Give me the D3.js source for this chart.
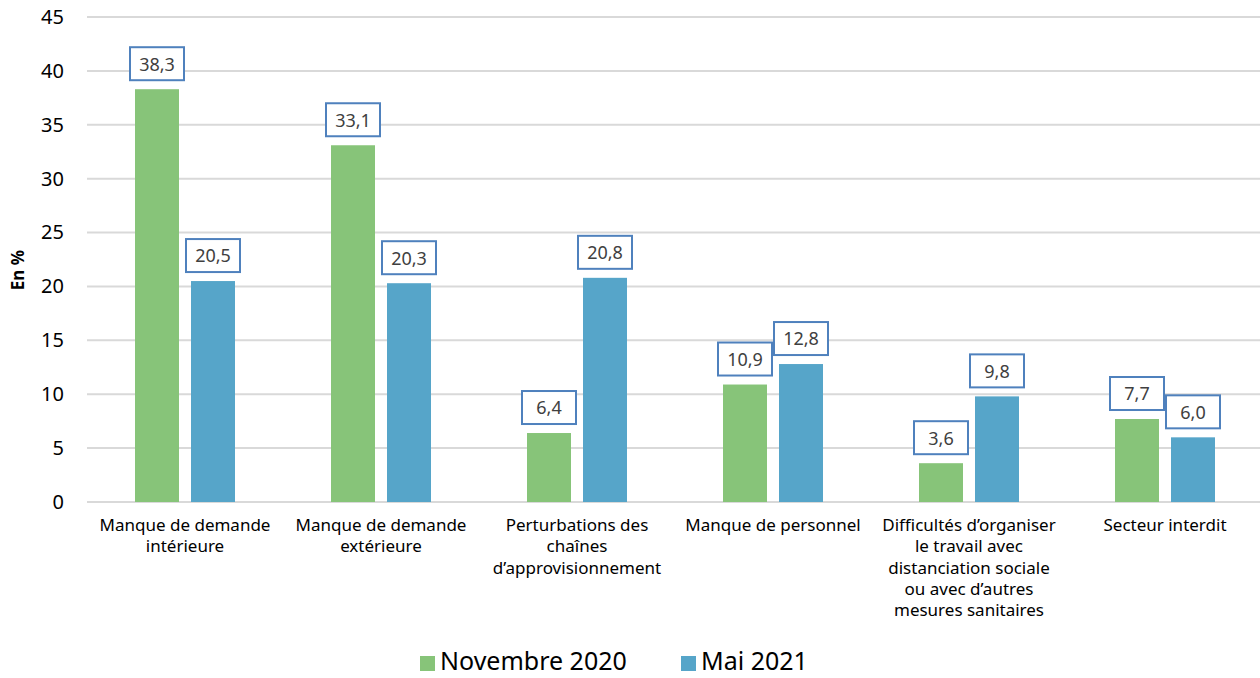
<!DOCTYPE html>
<html>
<head>
<meta charset="utf-8">
<script src="https://cdn.jsdelivr.net/npm/d3@7"></script>
<style>
  body { margin: 0; background: #fff; }
  svg { font-family: "Noto Sans", "Open Sans", sans-serif; }
</style>
</head>
<body>
<svg width="1260" height="678"></svg>
<script>
// categories (split into lines like the original)
const categories = [
    'Manque de demande intérieure',
    'Manque de demande extérieure',
    'Perturbations des chaînes d’approvisionnement',
    'Manque de personnel',
    'Difficultés d’organiser le travail avec distanciation sociale ou avec d’autres mesures sanitaires',
    'Secteur interdit'
];
const categoryLines = [
    ['Manque de demande', 'intérieure'],
    ['Manque de demande', 'extérieure'],
    ['Perturbations des', 'chaînes', 'd’approvisionnement'],
    ['Manque de personnel'],
    ['Difficultés d’organiser', 'le travail avec', 'distanciation sociale', 'ou avec d’autres', 'mesures sanitaires'],
    ['Secteur interdit']
];
const seriesNames = ['Novembre 2020', 'Mai 2021'];
const nov2020 = [38.3, 33.1, 6.4, 10.9, 3.6, 7.7];
const mai2021 = [20.5, 20.3, 20.8, 12.8, 9.8, 6.0];
const yTicks = [0, 5, 10, 15, 20, 25, 30, 35, 40, 45];

const colors = { 'Novembre 2020': '#87c479', 'Mai 2021': '#56a5c9' };

const rows = categories.map((c, i) => ({
    cat: c,
    values: [
        { key: seriesNames[0], v: nov2020[i] },
        { key: seriesNames[1], v: mai2021[i] }
    ]
}));

const svg = d3.select('svg');
const fmt = v => v.toFixed(1).replace('.', ',');

const x0 = d3.scaleBand().domain(categories).range([87, 1263]);
const bw = x0.bandwidth();
const x1 = d3.scaleBand().domain(seriesNames)
    .range([bw / 2 - 50, bw / 2 + 50]).paddingInner(12 / 56);
const y = d3.scaleLinear().domain([0, 45]).range([502, 17]);

// grid lines
svg.append('g')
    .selectAll('line')
    .data(yTicks)
    .enter()
    .append('line')
    .attr('x1', 87).attr('x2', 1260)
    .attr('y1', d => y(d)).attr('y2', d => y(d))
    .style('stroke', '#d9d9d9')
    .style('stroke-width', 2);

// y axis labels
const yAxis = svg.append('g')
    .attr('transform', 'translate(64,0)')
    .call(d3.axisLeft(y).tickValues(yTicks).tickSize(0).tickPadding(0));
yAxis.select('.domain').remove();
yAxis.selectAll('text')
    .style('font-size', '20px')
    .style('fill', '#000')
    .style('font-family', '"Noto Sans", sans-serif');

svg.append('text')
    .attr('transform', 'translate(24,270) rotate(-90)')
    .attr('text-anchor', 'middle')
    .style('font-size', '17px')
    .style('font-weight', 'bold')
    .text('En %');

// bars
const groups = svg.selectAll('g.cat')
    .data(rows)
    .enter()
    .append('g')
    .attr('class', 'cat')
    .attr('transform', d => `translate(${x0(d.cat)},0)`);

groups.selectAll('rect')
    .data(d => d.values)
    .enter()
    .append('rect')
    .attr('x', d => x1(d.key))
    .attr('width', x1.bandwidth())
    .attr('y', d => y(d.v))
    .attr('height', d => y(0) - y(d.v))
    .style('fill', d => colors[d.key]);

// value labels in boxes
const labels = groups.selectAll('g.lbl')
    .data(d => d.values)
    .enter()
    .append('g')
    .attr('class', 'lbl')
    .attr('transform', d => `translate(${x1(d.key) + x1.bandwidth() / 2},${y(d.v) - 8})`);

labels.append('rect')
    .attr('x', -27).attr('y', -34)
    .attr('width', 54).attr('height', 33)
    .style('fill', '#fff')
    .style('stroke', '#4f81bd')
    .style('stroke-width', 2);

labels.append('text')
    .attr('y', -17)
    .attr('dy', '0.35em')
    .attr('text-anchor', 'middle')
    .style('font-size', '18px')
    .style('fill', '#404040')
    .text(d => fmt(d.v));

// category labels
const catText = svg.append('g')
    .selectAll('text')
    .data(categories)
    .enter()
    .append('text')
    .attr('x', d => x0(d) + bw / 2)
    .attr('y', 531)
    .attr('text-anchor', 'middle')
    .style('font-size', '17px')
    .style('fill', '#000');

catText.selectAll('tspan')
    .data((d, i) => categoryLines[i])
    .enter()
    .append('tspan')
    .attr('x', function () { return d3.select(this.parentNode).attr('x'); })
    .attr('dy', (d, i) => i === 0 ? 0 : 21.3)
    .text(d => d);

// legend
const legendX = [420, 681];
const legend = svg.selectAll('g.legend')
    .data(seriesNames)
    .enter()
    .append('g')
    .attr('class', 'legend')
    .attr('transform', (d, i) => `translate(${legendX[i]},656)`);

legend.append('rect')
    .attr('width', 15).attr('height', 15)
    .style('fill', d => colors[d]);

legend.append('text')
    .attr('x', 20)
    .attr('y', 14)
    .style('font-size', '25px')
    .style('fill', '#000')
    .text(d => d);
</script>
</body>
</html>
